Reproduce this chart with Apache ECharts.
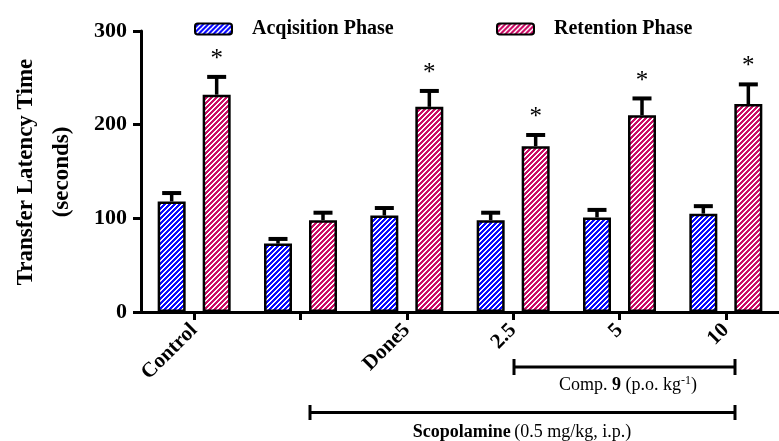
<!DOCTYPE html>
<html>
<head>
<meta charset="utf-8">
<script src="https://cdn.jsdelivr.net/npm/echarts@6/dist/echarts.min.js"></script>
<style>
html,body{margin:0;padding:0;background:#fff;}
#chart{width:779px;height:441px;}
</style>
</head>
<body>
<div id="chart"></div>
<script>
// ---- data ----
const categories = ['Control', '', 'Done5', '2.5', '5', '10'];
const seriesNames = ['Acqisition Phase', 'Retention Phase'];
const acquisition = [118, 73, 103, 98, 101, 105];
const acquisitionErr = [9, 5, 8, 8, 8, 8];
const retention = [232, 98, 219, 177, 210, 222];
const retentionErr = [19, 8, 17, 12, 18, 21];
const retentionStar = [1, 0, 1, 1, 1, 1];
const acquisitionStar = [0, 0, 0, 0, 0, 0];
const yTicks = [0, 100, 200, 300];

// ---- style ----
const SERIF = '"Liberation Serif", "Times New Roman", serif';
const BLUE = '#0a0aff';
const PINK = '#cc0c66';
const BAR_W = 28;
const GAP_PX = 17;
const HALF_PITCH = (BAR_W + GAP_PX) / 2;

function hatch(color) {
  const P = 5;
  const c = document.createElement('canvas');
  c.width = P; c.height = P;
  const ctx = c.getContext('2d');
  ctx.fillStyle = color;
  ctx.fillRect(0, 0, P, P);
  ctx.fillStyle = '#ffffff';
  for (let x = 0; x < P; x++) {
    for (let y = 0; y < P; y++) {
      if ((x + y) % P < 2) ctx.fillRect(x, y, 1, 1);
    }
  }
  return { image: c, repeat: 'repeat' };
}
const bluePat = hatch(BLUE);
const pinkPat = hatch(PINK);

function errData(vals, errs, stars) {
  return vals.map((v, i) => [i, v, errs[i], stars[i]]);
}

function errRenderer(side) {
  return function (params, api) {
    const idx = api.value(0), v = api.value(1), e = api.value(2), star = api.value(3);
    const base = api.coord([idx, v]);
    const top = api.coord([idx, v + e]);
    const x = base[0] + side * HALF_PITCH;
    const children = [
      { type: 'line', shape: { x1: x, y1: base[1], x2: x, y2: top[1] },
        style: { stroke: '#000', lineWidth: 3.5 } },
      { type: 'line', shape: { x1: x - 9.5, y1: top[1], x2: x + 9.5, y2: top[1] },
        style: { stroke: '#000', lineWidth: 4 } }
    ];
    if (star) {
      children.push({ type: 'text', x: x, y: top[1] - 5,
        style: { text: '*', fill: '#000', font: '25px ' + SERIF,
          textAlign: 'center', textVerticalAlign: 'bottom' } });
    }
    return { type: 'group', children: children };
  };
}

const legendText = { fontFamily: SERIF, fontWeight: 'bold', fontSize: 20, color: '#000', padding: [0, 0, 0, 15] };

const option = {
  backgroundColor: '#ffffff',
  animation: false,
  grid: { left: 141, top: 31, bottom: 129, width: 643, containLabel: false },
  legend: [
    { data: [{ name: seriesNames[0], itemStyle: { color: bluePat, borderColor: '#000', borderWidth: 2 } }],
      left: 194, top: 19, padding: 0, itemWidth: 37, itemHeight: 11,
      textStyle: legendText, selectedMode: false },
    { data: [{ name: seriesNames[1], itemStyle: { color: pinkPat, borderColor: '#000', borderWidth: 2 } }],
      left: 496, top: 19, padding: 0, itemWidth: 37, itemHeight: 11,
      textStyle: legendText, selectedMode: false }
  ],
  xAxis: {
    type: 'category',
    data: categories,
    boundaryGap: true,
    axisLine: { lineStyle: { color: '#000', width: 3 } },
    axisTick: { show: true, alignWithLabel: true, length: 8, lineStyle: { color: '#000', width: 3 } },
    axisLabel: { rotate: 45, margin: 15, color: '#000', fontFamily: SERIF, fontWeight: 'bold', fontSize: 21, interval: 0 },
    splitLine: { show: false }
  },
  yAxis: {
    type: 'value',
    min: yTicks[0], max: yTicks[yTicks.length - 1], interval: yTicks[1] - yTicks[0],
    axisLine: { show: true, lineStyle: { color: '#000', width: 3 } },
    axisTick: { show: true, length: 8, lineStyle: { color: '#000', width: 3 } },
    axisLabel: { margin: 14, color: '#000', fontFamily: SERIF, fontWeight: 'bold', fontSize: 22 },
    splitLine: { show: false }
  },
  series: [
    { name: seriesNames[0], type: 'bar', data: acquisition, barWidth: BAR_W,
      barGap: (GAP_PX / BAR_W * 100).toFixed(1) + '%',
      itemStyle: { color: bluePat, borderColor: '#000', borderWidth: 2.5 } },
    { name: seriesNames[1], type: 'bar', data: retention, barWidth: BAR_W,
      barGap: (GAP_PX / BAR_W * 100).toFixed(1) + '%',
      itemStyle: { color: pinkPat, borderColor: '#000', borderWidth: 2.5 } },
    { name: 'acqErr', type: 'custom', renderItem: errRenderer(-1), z: 5,
      encode: { x: 0, y: 1 }, data: errData(acquisition, acquisitionErr, acquisitionStar) },
    { name: 'retErr', type: 'custom', renderItem: errRenderer(1), z: 5,
      encode: { x: 0, y: 1 }, data: errData(retention, retentionErr, retentionStar) }
  ],
  graphic: [
    { type: 'text', x: 44, y: 172, rotation: Math.PI / 2,
      style: { text: 'Transfer Latency Time\n(seconds)', fill: '#000',
        font: 'bold 23px ' + SERIF, lineHeight: 36, textAlign: 'center', textVerticalAlign: 'middle' } },
    // Comp. 9 bracket
    { type: 'line', shape: { x1: 514, y1: 367, x2: 735, y2: 367 }, style: { stroke: '#000', lineWidth: 3 } },
    { type: 'line', shape: { x1: 514, y1: 359, x2: 514, y2: 375 }, style: { stroke: '#000', lineWidth: 3 } },
    { type: 'line', shape: { x1: 735, y1: 359, x2: 735, y2: 375 }, style: { stroke: '#000', lineWidth: 3 } },
    { type: 'text', x: 628, y: 385,
      style: { text: '{r|Comp. }{b|9}{r| (p.o. kg}{s|-1}{r|)}', textAlign: 'center', textVerticalAlign: 'middle',
        rich: {
          r: { fontFamily: SERIF, fontSize: 18, color: '#000' },
          b: { fontFamily: SERIF, fontSize: 18, fontWeight: 'bold', color: '#000' },
          s: { fontFamily: SERIF, fontSize: 12, color: '#000', padding: [0, 0, 8, 0] }
        } } },
    // Scopolamine bracket
    { type: 'line', shape: { x1: 310, y1: 412.5, x2: 735, y2: 412.5 }, style: { stroke: '#000', lineWidth: 3 } },
    { type: 'line', shape: { x1: 310, y1: 405, x2: 310, y2: 420 }, style: { stroke: '#000', lineWidth: 3 } },
    { type: 'line', shape: { x1: 735, y1: 405, x2: 735, y2: 420 }, style: { stroke: '#000', lineWidth: 3 } },
    { type: 'text', x: 522, y: 432,
      style: { text: '{b|Scopolamine} {r|(0.5 mg/kg, i.p.)}', textAlign: 'center', textVerticalAlign: 'middle',
        rich: {
          r: { fontFamily: SERIF, fontSize: 18, color: '#000' },
          b: { fontFamily: SERIF, fontSize: 18, fontWeight: 'bold', color: '#000' }
        } } }
  ]
};

const chart = echarts.init(document.getElementById('chart'), null, { renderer: 'canvas' });
chart.setOption(option);
</script>
</body>
</html>
